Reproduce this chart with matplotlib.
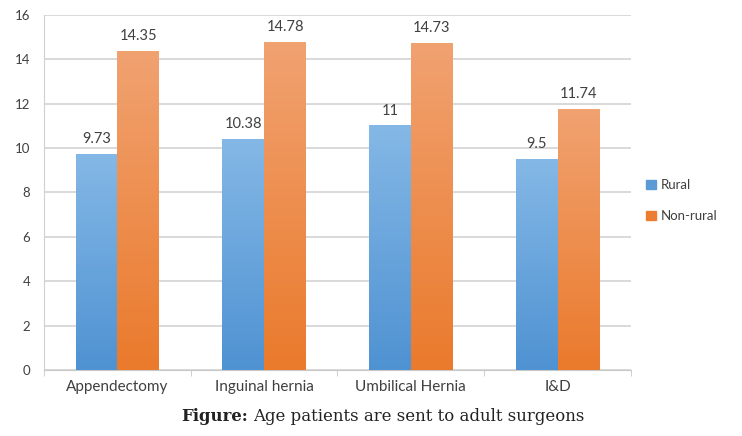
import numpy as np
import matplotlib
matplotlib.use("Agg")
import matplotlib.pyplot as plt
from matplotlib.colors import LinearSegmentedColormap
from matplotlib.patches import Patch

# Age at which patients are referred to adult surgeons
procedures = ["Appendectomy", "Inguinal hernia", "Umbilical Hernia", "I&D"]
rural = [9.73, 10.38, 11, 9.5]
non_rural = [14.35, 14.78, 14.73, 11.74]
rural_labels = ["9.73", "10.38", "11", "9.5"]
non_rural_labels = ["14.35", "14.78", "14.73", "11.74"]
y_ticks = [0, 2, 4, 6, 8, 10, 12, 14, 16]

plt.rcParams['font.family'] = ['Lato', 'DejaVu Sans']
text_col = '#404040'

fig = plt.figure(figsize=(7.42, 4.36), dpi=100)
ax = fig.add_axes([0.0593, 0.1514, 0.7911, 0.8142])

x = np.arange(len(procedures))
width = 0.285

blue_cm = LinearSegmentedColormap.from_list('b', ['#4f92d2', '#84b8e6'])
orange_cm = LinearSegmentedColormap.from_list('o', ['#ea7a2c', '#f1a271'])
grad = np.linspace(0, 1, 256).reshape(-1, 1)


def gradient_bars(xs, vals, cmap):
    bars = ax.bar(xs, vals, width, color='none', edgecolor='none', zorder=3)
    for b in bars:
        x0, y0 = b.get_x(), b.get_y()
        ax.imshow(grad, cmap=cmap, origin='lower', aspect='auto', zorder=3,
                  extent=(x0, x0 + b.get_width(), y0, y0 + b.get_height()))
    return bars


bars_r = gradient_bars(x - width / 2, rural, blue_cm)
bars_n = gradient_bars(x + width / 2, non_rural, orange_cm)

for bars, labels in ((bars_r, rural_labels), (bars_n, non_rural_labels)):
    for b, lab in zip(bars, labels):
        ax.annotate(lab, (b.get_x() + b.get_width() / 2, b.get_height()),
                    xytext=(0, 6), textcoords='offset points', ha='center',
                    va='bottom', fontsize=10.5, color=text_col)

ax.set_xlim(-0.5, len(procedures) - 0.5)
ax.set_ylim(0, 16)
ax.set_yticks(y_ticks)
ax.tick_params(axis='y', length=0, labelsize=9.5, labelcolor=text_col, pad=10)
ax.yaxis.grid(True, color='#d0d0d0', linewidth=1.1)
ax.set_axisbelow(True)

ax.set_xticks(x)
ax.set_xticklabels(procedures)
ax.tick_params(axis='x', length=0, labelsize=11, labelcolor=text_col, pad=7)
ax.set_xticks(np.arange(len(procedures) + 1) - 0.5, minor=True)
ax.tick_params(axis='x', which='minor', length=4, color='#c8c8c8')

for side in ('top', 'right'):
    ax.spines[side].set_visible(False)
ax.spines['left'].set_color('#d0d0d0')
ax.spines['bottom'].set_color('#c8c8c8')

handles = [Patch(color='#5b9bd5', label='Rural'),
           Patch(color='#ed7d31', label='Non-rural')]
fig.legend(handles=handles, loc='center left', bbox_to_anchor=(0.855, 0.54),
           frameon=False, fontsize=9.5, handlelength=0.7, handleheight=0.7,
           handletextpad=0.4, labelspacing=1.4, labelcolor=text_col)

# caption: bold lead-in followed by regular text
fig.text(248 / 742, 0.044, "Figure:", fontsize=11.9, ha='right', va='center',
         family='DejaVu Serif', weight='bold', color='#222222')
fig.text(253 / 742, 0.044, "Age patients are sent to adult surgeons",
         fontsize=11.9, ha='left', va='center', family='DejaVu Serif',
         color='#222222')

fig.savefig('out.png', dpi=100)
